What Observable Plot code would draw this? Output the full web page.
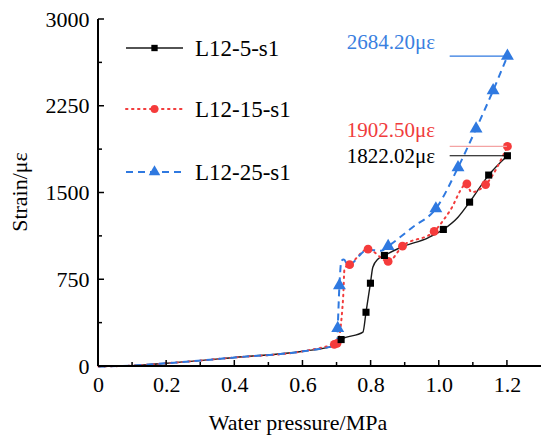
<!DOCTYPE html>
<html><head><meta charset="utf-8">
<script src="https://cdn.jsdelivr.net/npm/d3@7"></script>
<script src="https://cdn.jsdelivr.net/npm/@observablehq/plot@0.6"></script>
<style>body{margin:0;background:#fff}</style>
</head><body><div id="chart"></div>
<script>
// ---- text ----
const xLabel = "Water pressure/MPa";
const yLabel = "Strain/με";
const names = ["L12-5-s1", "L12-15-s1", "L12-25-s1"];
const endLabels = ["1822.02με", "1902.50με", "2684.20με"];
const endValues = [1822.02, 1902.50, 2684.20];

// ---- ticks ----
const xTicks = [0, 0.2, 0.4, 0.6, 0.8, 1.0, 1.2];
const xMinor = [0.1, 0.3, 0.5, 0.7, 0.9, 1.1];
const yTicks = [0, 750, 1500, 2250, 3000];
const yMinor = [375, 1125, 1875, 2625];

// ---- L12-5-s1 (line and markers) ----
const p5 = [0, 0.1, 0.2, 0.4, 0.6, 0.69, 0.712, 0.776, 0.785, 0.798, 0.805, 0.821, 0.839, 0.888, 0.967, 1.012, 1.055, 1.089, 1.145, 1.2];
const s5 = [0, 8, 28, 78, 132, 178, 233, 297, 469, 720, 858, 931, 960, 1031, 1113, 1185, 1291, 1421, 1655, 1822.02];
const p5m = [0.712, 0.785, 0.798, 0.839, 1.012, 1.089, 1.145, 1.2];
const s5m = [233, 469, 720, 960, 1185, 1421, 1655, 1822.02];

// ---- L12-15-s1 ----
const p15 = [0, 0.1, 0.2, 0.4, 0.6, 0.692, 0.70, 0.718, 0.722, 0.737, 0.791, 0.85, 0.892, 0.985, 1.03, 1.081, 1.094, 1.136, 1.2];
const s15 = [0, 8, 28, 78, 132, 192, 200, 600, 850, 880, 1014, 908, 1040, 1168, 1340, 1578, 1507, 1573, 1902.5];
const p15m = [0.692, 0.70, 0.737, 0.791, 0.85, 0.892, 0.985, 1.081, 1.136, 1.2];
const s15m = [192, 200, 880, 1014, 908, 1040, 1168, 1578, 1573, 1902.5];

// ---- L12-25-s1 ----
const p25 = [0, 0.1, 0.2, 0.4, 0.6, 0.70, 0.702, 0.707, 0.713, 0.72, 0.732, 0.79, 0.83, 0.85, 0.92, 0.99, 1.055, 1.108, 1.158, 1.2];
const s25 = [0, 8, 28, 78, 132, 190, 330, 700, 915, 925, 875, 1010, 1000, 1040, 1200, 1365, 1720, 2055, 2386, 2684.2];
const p25m = [0.702, 0.707, 0.85, 0.99, 1.055, 1.108, 1.158, 1.2];
const s25m = [330, 700, 1040, 1365, 1720, 2055, 2386, 2684.2];

// ---- styles ----
const colors = ["#1a1a1a", "#f23c3c", "#2f79e0"];
const markColors = ["#000000", "#f53b3b", "#2f79e0"];
const refColors = ["#000000", "#f4a3a3", "#2f79e0"];
const textColors = ["#000000", "#f03c3c", "#3a80e0"];
const dashes = [null, "1.5,4.5", "7,5"];
const widths = [1.4, 2, 2];
const symbols = ["square", "circle", "triangle"];
const radii = [4, 4.4, 4.8];
const FONT = "'Liberation Serif', 'Times New Roman', serif";

const rows = (ps, ss) => ps.map((p, i) => ({p, s: ss[i]}));
const lines = [rows(p5, s5), rows(p15, s15), rows(p25, s25)];
const markers = [rows(p5m, s5m), rows(p15m, s15m), rows(p25m, s25m)];
const ends = endValues.map((v, i) => ({v, label: endLabels[i], i}));
const labelDy = [1, -16, -14];

const marks = [
  Plot.axisX(xTicks, {tickSize: 0, tickPadding: 10, tickFormat: d => d === 0 ? "0" : d.toFixed(1), label: null}),
  Plot.axisY(yTicks, {tickSize: 0, tickPadding: 9, tickFormat: d => String(d), label: null})
];
[0, 1, 2].forEach(i => {
  marks.push(Plot.line(lines[i], {x: "p", y: "s", stroke: colors[i], strokeWidth: widths[i],
    strokeDasharray: dashes[i], strokeLinecap: i === 1 ? "round" : "butt", curve: "monotone-x"}));
});
[1, 2, 0].forEach(i => {
  marks.push(Plot.dot(markers[i], {x: "p", y: "s", symbol: () => symbols[i], r: radii[i], fill: markColors[i], stroke: "none"}));
});
ends.forEach(d => {
  marks.push(Plot.ruleY([d.v], {x1: 1.032, x2: 1.2, stroke: refColors[d.i], strokeWidth: 1.2}));
  marks.push(Plot.text([d], {x: () => 0.988, y: "v", text: "label", textAnchor: "end", dy: labelDy[d.i],
    fill: textColors[d.i], fontSize: 21}));
});

const plot = Plot.plot({
  width: 550, height: 445,
  marginLeft: 98, marginRight: 9, marginTop: 19, marginBottom: 79,
  x: {domain: [0, 1.3]},
  y: {domain: [0, 3000]},
  style: {fontFamily: FONT, fontSize: "22px", color: "#000", background: "#fff", overflow: "visible"},
  marks
});

const svg = d3.select(plot);
const X = plot.scale("x"), Y = plot.scale("y");
const x0 = X.apply(0), x1 = X.apply(1.3), y0 = Y.apply(0), y1 = Y.apply(3000);
const g = svg.append("g").attr("stroke", "#000").attr("fill", "none");
g.append("line").attr("x1", x0).attr("x2", x1).attr("y1", y0).attr("y2", y0).attr("stroke-width", 2);
g.append("line").attr("x1", x0).attr("x2", x0).attr("y1", y0).attr("y2", y1).attr("stroke-width", 2);
xTicks.forEach(v => g.append("line").attr("x1", X.apply(v)).attr("x2", X.apply(v)).attr("y1", y0).attr("y2", y0 - 6).attr("stroke-width", 1.5));
xMinor.forEach(v => g.append("line").attr("x1", X.apply(v)).attr("x2", X.apply(v)).attr("y1", y0).attr("y2", y0 - 4).attr("stroke-width", 1.5));
yTicks.forEach(v => g.append("line").attr("y1", Y.apply(v)).attr("y2", Y.apply(v)).attr("x1", x0).attr("x2", x0 + 6).attr("stroke-width", 1.5));
yMinor.forEach(v => g.append("line").attr("y1", Y.apply(v)).attr("y2", Y.apply(v)).attr("x1", x0).attr("x2", x0 + 4).attr("stroke-width", 1.5));

// axis titles
svg.append("text").attr("x", 298).attr("y", 430).attr("text-anchor", "middle")
  .attr("font-family", FONT).attr("font-size", 22).attr("fill", "#000").text(xLabel);
svg.append("text").attr("transform", "translate(27,192) rotate(-90)").attr("text-anchor", "middle")
  .attr("font-family", FONT).attr("font-size", 22).attr("fill", "#000").text(yLabel);

// legend
const legY = [48, 109, 172];
const sym = [d3.symbolSquare, d3.symbolCircle, d3.symbolTriangle];
names.forEach((n, i) => {
  const lg = svg.append("g");
  lg.append("line").attr("x1", 126).attr("x2", 183).attr("y1", legY[i]).attr("y2", legY[i])
    .attr("stroke", colors[i]).attr("stroke-width", widths[i])
    .attr("stroke-dasharray", dashes[i]).attr("stroke-linecap", i === 1 ? "round" : "butt");
  lg.append("path").attr("transform", `translate(154.5,${legY[i]})`)
    .attr("d", d3.symbol(sym[i], Math.PI * radii[i] * radii[i] * 0.8)()).attr("fill", markColors[i]);
  lg.append("text").attr("x", 195).attr("y", legY[i] + 8).attr("text-anchor", "start")
    .attr("font-family", FONT).attr("font-size", 23).attr("fill", "#000").text(n);
});

document.getElementById("chart").appendChild(plot);
</script>
</body></html>
